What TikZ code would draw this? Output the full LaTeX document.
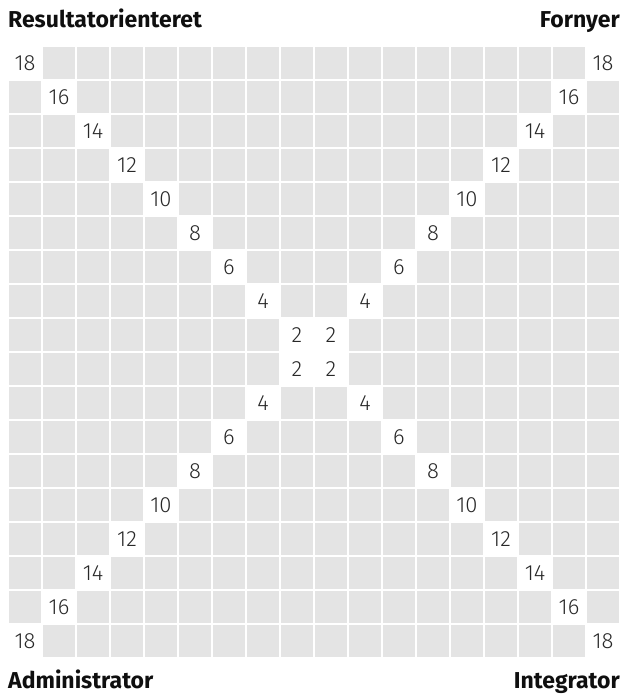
\documentclass[tikz,border=0pt]{standalone}
\usepackage{fontspec}
\setmainfont{Fira Sans}
\newfontfamily\lightfont{Fira Sans Light}
\usetikzlibrary{positioning}
\definecolor{GridGrey}{RGB}{228,228,228}
\definecolor{NumInk}{RGB}{40,40,40}
\definecolor{TitleInk}{RGB}{15,15,15}
\tikzset{
  cellbox/.style={fill=GridGrey,draw=none,minimum size=32.4pt,inner sep=0pt,outer sep=0pt},
  numbox/.style={fill=white,draw=none,minimum size=32.4pt,inner sep=0pt,outer sep=0pt,
    font=\lightfont\fontsize{22}{22}\selectfont,text=NumInk},
  corner/.style={inner sep=0pt,text=TitleInk,font=\bfseries\fontsize{23}{23}\selectfont}
}

\begin{document}
\begin{tikzpicture}[x=1pt,y=-1pt]
  \path[use as bounding box,fill=white] (0,0) rectangle (624,694);
  % corner labels
  \node[corner,anchor=base west] (res) at (8,27) {Resultatorienteret};
  \node[corner,anchor=base east] (forn) at (620,27) {Fornyer};
  \node[corner,anchor=base west] (adm) at (8,688) {Administrator};
  \node[corner,anchor=base east] (integ) at (620,688) {Integrator};
  % 18 x 18 grid, the two diagonals carry the numbers
  \foreach \j in {0,...,17}{
    \foreach \i in {0,...,17}{
      \pgfmathtruncatemacro\ondiag{(\i==\j)||(\i==17-\j)}
      \pgfmathtruncatemacro\val{abs(2*\j-17)+1}
      \ifnum\ondiag=1
        \node[numbox] (c-\i-\j) at (25+34*\i,63+34*\j) {\val};
      \else
        \node[cellbox] (c-\i-\j) at (25+34*\i,63+34*\j) {};
      \fi
    }
  }
\end{tikzpicture}
\end{document}
